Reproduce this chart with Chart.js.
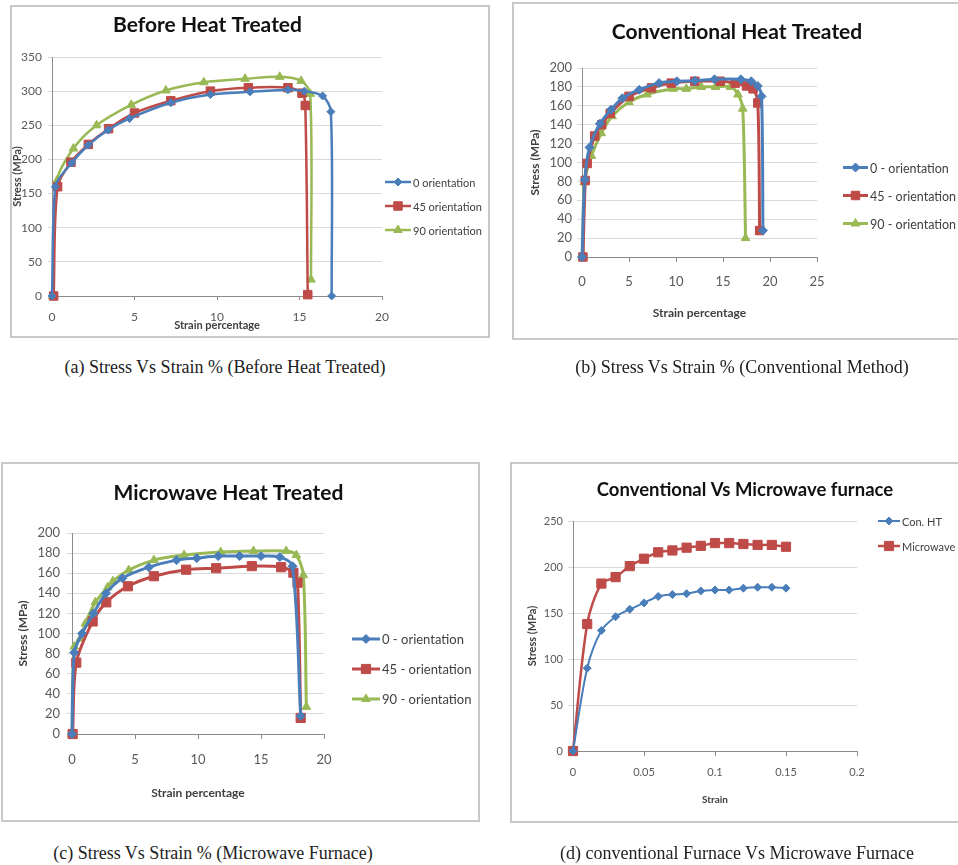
<!DOCTYPE html>
<html>
<head>
<meta charset="utf-8">
<title>Stress vs Strain</title>
<script src="https://cdn.jsdelivr.net/npm/chart.js@4.4.0/dist/chart.umd.min.js"></script>
<style>
  body { margin: 0; background: #fff; width: 958px; height: 865px; position: relative; overflow: hidden; }
  .panel { position: absolute; }
  .panel canvas { position: absolute; left: 0; top: 0; }
  .frame { position: absolute; left: 0; top: 0; right: 0; bottom: 0; border: 2px solid #c8c8c8; box-sizing: border-box; pointer-events: none; }
  .caption { position: absolute; font-family: 'Liberation Serif', 'Times New Roman', serif; font-size: 18px; line-height: 20px; color: #222; text-align: center; white-space: nowrap; }
</style>
</head>
<body>

<div class="panel" style="left:10px; top:5px; width:480px; height:333px;">
  <canvas id="chartBefore" width="480" height="333"></canvas><div class="frame"></div>
</div>
<div class="panel" style="left:512px; top:2px; width:450px; height:338px;">
  <canvas id="chartConventional" width="450" height="338"></canvas><div class="frame"></div>
</div>
<div class="panel" style="left:1px; top:462px; width:479px; height:360px;">
  <canvas id="chartMicrowave" width="479" height="360"></canvas><div class="frame"></div>
</div>
<div class="panel" style="left:510px; top:462px; width:452px; height:361px;">
  <canvas id="chartCompare" width="452" height="361"></canvas><div class="frame"></div>
</div>

<div class="caption" style="left:25px; top:357px; width:400px;">(a) Stress Vs Strain % (Before Heat Treated)</div>
<div class="caption" style="left:542px; top:357px; width:400px;">(b) Stress Vs Strain % (Conventional Method)</div>
<div class="caption" style="left:13px; top:843px; width:400px;">(c) Stress Vs Strain % (Microwave Furnace)</div>
<div class="caption" style="left:537px; top:843px; width:400px;">(d) conventional Furnace Vs Microwave Furnace</div>

<script>
// (a) before heat treatment
const beforeStrain0 = [0, 0.2, 1.2, 2.2, 3.4, 4.7, 7.2, 9.6, 12.0, 14.3, 15.3, 16.4, 16.9, 16.95];
const beforeStress0 = [0, 160, 195, 221, 243, 260, 283, 295, 299, 302, 300, 293, 270, 0];
const beforeStrain45 = [0.1, 0.34, 1.15, 2.2, 3.43, 5.0, 7.2, 9.6, 11.9, 14.3, 15.15, 15.35, 15.5];
const beforeStress45 = [0, 160, 196, 222, 245, 268, 286, 300, 305, 305, 297, 279, 2];
const beforeStrain90 = [0.05, 0.3, 1.3, 2.7, 4.8, 6.9, 9.2, 11.7, 13.8, 15.1, 15.65, 15.7];
const beforeStress90 = [0, 169, 216, 250, 280, 301, 313, 318, 321, 315, 296, 24];

// (b) conventional furnace
const convStrain0 = [0, 0.3, 0.8, 1.9, 3.1, 4.3, 6.1, 8.2, 10.1, 12.0, 14.1, 16.9, 18.0, 18.7, 19.1, 19.25];
const convStress0 = [0, 82, 116, 141, 156, 168, 177, 184, 186, 186.5, 188, 188, 186, 181, 170, 28];
const convStrain45 = [0.1, 0.35, 0.55, 1.35, 2.1, 3.0, 5.0, 7.4, 9.5, 12.0, 14.7, 16.3, 17.5, 18.2, 18.7, 18.9];
const convStress45 = [0, 81, 99, 128, 140, 152, 170, 179, 184, 186, 186, 184, 181, 178, 163, 28];
const convStrain90 = [0.1, 0.25, 1.0, 2.05, 3.2, 5.0, 6.9, 9.7, 11.1, 12.7, 14.2, 15.8, 16.6, 17.1, 17.4];
const convStress90 = [0, 79, 107, 131, 149, 164, 172, 178, 178, 180, 180, 180, 172, 157, 20];

// (c) microwave furnace
const microStrain0 = [0, 0.18, 0.8, 1.7, 2.7, 4.0, 6.1, 8.3, 9.9, 11.6, 13.3, 15.0, 16.5, 17.5, 18.15];
const microStress0 = [0, 81, 100, 120, 140, 155, 166, 173, 175, 177, 177, 177, 176, 167, 18];
const microStrain45 = [0.05, 0.34, 1.64, 2.72, 4.44, 6.5, 9.06, 11.44, 14.27, 16.6, 17.57, 17.9, 18.15];
const microStress45 = [0, 71, 112, 131, 147, 157, 163.5, 165, 167, 166, 160.5, 150.6, 16];
const microStrain90 = [0, 0.18, 0.66, 1.06, 1.85, 2.83, 3.25, 4.5, 6.5, 8.9, 11.8, 14.4, 17.0, 17.8, 18.36, 18.6];
const microStress90 = [0, 87, 95, 110, 131, 146, 152, 163, 173, 178, 181, 182, 182, 178, 158, 27];

// (d) conventional vs microwave
const compareStrain = [0, 0.01, 0.02, 0.03, 0.04, 0.05, 0.06, 0.07, 0.08, 0.09, 0.10, 0.11, 0.12, 0.13, 0.14, 0.15];
const compareConHT = [0, 90, 131, 146, 154, 161, 168, 170, 171, 174, 175, 175, 177, 178, 178, 177];
const compareMicrowaveHT = [0, 138, 182, 189, 201, 209, 216, 218, 221, 223, 226, 226, 225, 224, 224, 222];

// axis ranges: [min, max, step]
const strainPctAxis = [0, 20, 5];
const strainPctAxisWide = [0, 25, 5];
const strainAxis = [0, 0.2, 0.05];
const stressAxisBefore = [0, 350, 50];
const stressAxisHT = [0, 200, 20];
const stressAxisCompare = [0, 250, 50];

const labels3 = ['0 orientation', '45 orientation', '90 orientation'];
const labels3Dash = ['0 - orientation', '45 - orientation', '90 - orientation'];
const labels2 = ['Con. HT', 'Microwave HT'];

const BLUE = '#4a7ebb';
const RED = '#be4b48';
const GREEN = '#98b954';

Chart.defaults.font.family = 'Lato, sans-serif';

// title + excel-like legend (line with marker)
const panelDecor = {
    id: 'panelDecor',
    afterDraw(chart, args, opts) {
        const ctx = chart.ctx;
        ctx.save();
        ctx.fillStyle = '#111';
        ctx.font = 'bold ' + opts.titleSize + 'px Lato, sans-serif';
        ctx.textAlign = 'center';
        ctx.textBaseline = 'middle';
        ctx.fillText(opts.title, opts.titleX, opts.titleY);

        ctx.font = opts.legendSize + 'px Lato, sans-serif';
        ctx.textAlign = 'left';
        chart.data.datasets.forEach(function(ds, i) {
            const y = opts.legendY + i * opts.legendGap;
            ctx.strokeStyle = ds.borderColor;
            ctx.lineWidth = ds.borderWidth;
            ctx.beginPath();
            ctx.moveTo(opts.legendX, y);
            ctx.lineTo(opts.legendX + opts.lineLen, y);
            ctx.stroke();
            ctx.fillStyle = ds.borderColor;
            ctx.lineWidth = 1;
            Chart.helpers.drawPoint(ctx, {pointStyle: ds.pointStyle, radius: ds.pointRadius, borderWidth: 1, rotation: 0},
                opts.legendX + opts.lineLen / 2, y);
            ctx.fillStyle = '#404040';
            ctx.fillText(ds.label, opts.legendX + opts.lineLen + 2, y + 1);
        });
        ctx.restore();
    }
};

function makeSeries(label, strain, stress, color, marker, radius, width) {
    return {
        label: label,
        data: strain.map((x, i) => ({x: x, y: stress[i]})),
        borderColor: color,
        backgroundColor: color,
        pointBackgroundColor: color,
        pointBorderColor: color,
        pointBorderWidth: 1,
        pointStyle: marker,
        pointRadius: radius,
        borderWidth: width,
        tension: 0.3,
        clip: 8,
        fill: false
    };
}

function tickLabel(v) {
    return String(Number(v.toFixed(2)));
}

function makePanel(id, datasets, c) {
    const ctx = document.getElementById(id);
    return new Chart(ctx, {
        type: 'line',
        data: { datasets: datasets },
        options: {
            responsive: false,
            animation: false,
            layout: { padding: c.padding },
            plugins: {
                legend: { display: false },
                tooltip: { enabled: false },
                panelDecor: c.decor
            },
            scales: {
                x: {
                    type: 'linear',
                    min: c.xAxis[0], max: c.xAxis[1],
                    afterFit: s => { s.height = c.xHeight; },
                    ticks: { stepSize: c.xAxis[2], color: '#595959', font: { size: c.tickSize }, padding: c.xTickPad, callback: tickLabel, maxRotation: 0 },
                    grid: { drawOnChartArea: false, tickLength: c.xTickLen, color: '#8c8c8c' },
                    border: { color: '#8c8c8c' },
                    title: { display: true, text: c.xTitle, color: '#404040', font: { size: c.xTitleSize, weight: 'bold' }, padding: 0 }
                },
                y: {
                    min: c.yAxis[0], max: c.yAxis[1],
                    afterFit: s => { s.width = c.yWidth; },
                    ticks: { stepSize: c.yAxis[2], color: '#595959', font: { size: c.tickSize }, padding: c.yTickPad },
                    grid: { color: '#d9d9d9', tickLength: c.yTickLen },
                    border: { color: '#8c8c8c' },
                    title: { display: true, text: 'Stress (MPa)', color: '#404040', font: { size: c.yTitleSize, weight: 'bold' }, padding: 0 }
                }
            }
        },
        plugins: [panelDecor]
    });
}

makePanel('chartBefore', [
    makeSeries(labels3[0], beforeStrain0, beforeStress0, BLUE, 'rectRot', 4, 2.5),
    makeSeries(labels3[1], beforeStrain45, beforeStress45, RED, 'rect', 6, 2.5),
    makeSeries(labels3[2], beforeStrain90, beforeStress90, GREEN, 'triangle', 5, 2.5)
], {
    padding: { left: 1, right: 108, top: 52, bottom: 6.4 },
    xAxis: strainPctAxis, yAxis: stressAxisBefore,
    xHeight: 35.6, yWidth: 41,
    tickSize: 12, xTickPad: 9.8, xTickLen: 4, yTickPad: 6, yTickLen: 4,
    xTitle: 'Strain percentage', xTitleSize: 11, yTitleSize: 11,
    decor: { title: 'Before Heat Treated', titleSize: 21, titleX: 197.5, titleY: 20,
             legendX: 375, legendY: 177, legendGap: 24, lineLen: 26, legendSize: 11 }
});

makePanel('chartConventional', [
    makeSeries(labels3Dash[0], convStrain0, convStress0, BLUE, 'rectRot', 4.5, 3),
    makeSeries(labels3Dash[1], convStrain45, convStress45, RED, 'rect', 6, 3),
    makeSeries(labels3Dash[2], convStrain90, convStress90, GREEN, 'triangle', 5, 3)
], {
    padding: { left: 16, right: 145, top: 66, bottom: 19.8 },
    xAxis: strainPctAxisWide, yAxis: stressAxisHT,
    xHeight: 63.2, yWidth: 54,
    tickSize: 13, xTickPad: 12, xTickLen: 5, yTickPad: 5, yTickLen: 5,
    xTitle: 'Strain percentage', xTitleSize: 12, yTitleSize: 12,
    decor: { title: 'Conventional Heat Treated', titleSize: 21, titleX: 225, titleY: 30,
             legendX: 331, legendY: 165.5, legendGap: 28, lineLen: 25, legendSize: 12.5 }
});

makePanel('chartMicrowave', [
    makeSeries(labels3Dash[0], microStrain0, microStress0, BLUE, 'rectRot', 4.5, 3),
    makeSeries(labels3Dash[1], microStrain45, microStress45, RED, 'rect', 6.5, 3),
    makeSeries(labels3Dash[2], microStrain90, microStress90, GREEN, 'triangle', 5, 3)
], {
    padding: { left: 15, right: 156, top: 71, bottom: 21.8 },
    xAxis: strainPctAxis, yAxis: stressAxisHT,
    xHeight: 66.2, yWidth: 56,
    tickSize: 13, xTickPad: 13, xTickLen: 5, yTickPad: 7, yTickLen: 5,
    xTitle: 'Strain percentage', xTitleSize: 12, yTitleSize: 12,
    decor: { title: 'Microwave Heat Treated', titleSize: 21, titleX: 227.5, titleY: 31,
             legendX: 351, legendY: 177, legendGap: 30, lineLen: 28, legendSize: 13 }
});

makePanel('chartCompare', [
    makeSeries(labels2[0], compareStrain, compareConHT, BLUE, 'rectRot', 4, 2),
    makeSeries(labels2[1], compareStrain, compareMicrowaveHT, RED, 'rect', 6.5, 2.5)
], {
    padding: { left: 16, right: 105, top: 59, bottom: 17 },
    xAxis: strainAxis, yAxis: stressAxisCompare,
    xHeight: 55, yWidth: 47,
    tickSize: 11, xTickPad: 10, xTickLen: 5, yTickPad: 5, yTickLen: 5,
    xTitle: 'Strain', xTitleSize: 10, yTitleSize: 11,
    decor: { title: 'Conventional Vs Microwave furnace', titleSize: 18.5, titleX: 235, titleY: 28,
             legendX: 368, legendY: 59, legendGap: 25, lineLen: 22, legendSize: 11 }
});
</script>
</body>
</html>
